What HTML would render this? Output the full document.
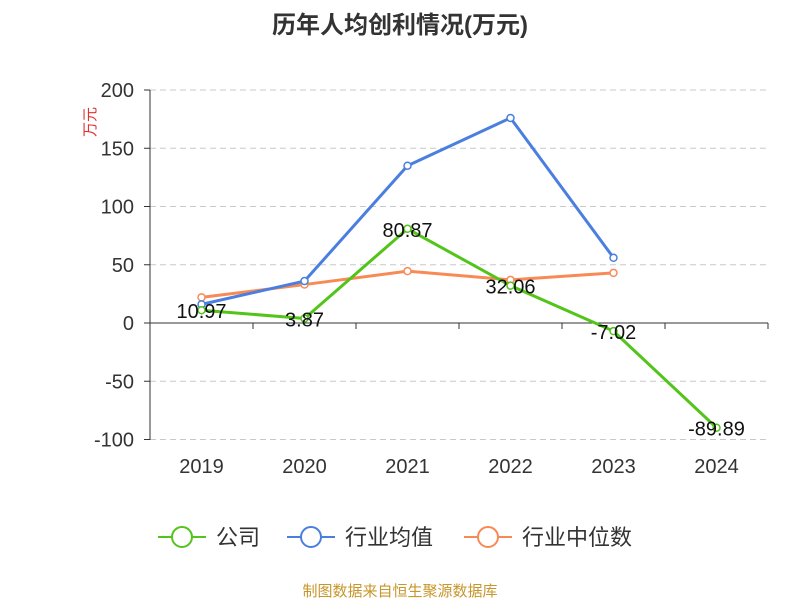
<!DOCTYPE html>
<html><head><meta charset="utf-8"><style>
body{margin:0;background:#fff;}
svg text{font-family:"Liberation Sans","Noto Sans CJK SC",sans-serif;}
</style></head><body>
<svg id="chart" width="800" height="600" xmlns="http://www.w3.org/2000/svg">
<text x="400" y="33" text-anchor="middle" font-size="24" font-weight="bold" fill="#333">历年人均创利情况(万元)</text>
<text x="0" y="0" transform="translate(95,122) rotate(-90)" text-anchor="middle" font-size="15" fill="#e03030">万元</text>
<g id="grid"></g><g id="axes"></g><g id="series"></g>
<g>
<g><line x1="158" y1="537" x2="206" y2="537" stroke="#52c41a" stroke-width="2"/><circle cx="182" cy="537" r="10" fill="#fff" stroke="#52c41a" stroke-width="2"/><text x="216" y="545" font-size="22" fill="#333">公司</text></g>
<g><line x1="287" y1="537" x2="335" y2="537" stroke="#4a7fe0" stroke-width="2"/><circle cx="311" cy="537" r="10" fill="#fff" stroke="#4a7fe0" stroke-width="2"/><text x="345" y="545" font-size="22" fill="#333">行业均值</text></g>
<g><line x1="464" y1="537" x2="512" y2="537" stroke="#f78a55" stroke-width="2"/><circle cx="488" cy="537" r="10" fill="#fff" stroke="#f78a55" stroke-width="2"/><text x="522" y="545" font-size="22" fill="#333">行业中位数</text></g>
</g>
<text x="400" y="596" text-anchor="middle" font-size="15" fill="#c8962a">制图数据来自恒生聚源数据库</text>
</svg>
<script>
const categories=["2019","2020","2021","2022","2023","2024"];
const companyValues=[10.97,3.87,80.87,32.06,-7.02,-89.89];
const avgValues=[16,36,135,176,56,null];
const medianValues=[22,33,44.5,37,43,null];
const yTicks=[200,150,100,50,0,-50,-100];
const NS="http://www.w3.org/2000/svg";
const x0=150,x1=768,yTop=90,yBot=440;
const y=v=>323-(v)*(323-yTop)/200;
const bw=(x1-x0)/categories.length;
const x=i=>x0+bw*(i+0.5);
function mk(tag,attrs,parent,txt){const e=document.createElementNS(NS,tag);for(const k in attrs)e.setAttribute(k,attrs[k]);if(txt!=null)e.textContent=txt;document.getElementById(parent).appendChild(e);return e;}
yTicks.forEach(t=>{
 const g=mk('line',{x1:x0,x2:x1,y1:y(t),y2:y(t),stroke:t===0?'#333':'#c8c8c8','stroke-dasharray':t===0?'':'6,4','stroke-width':1},'grid');
 
 
 const tk=mk('line',{x1:x0-6,x2:x0,y1:y(t),y2:y(t),stroke:'#333'},'axes');
 
 
 const l=mk('text',{x:x0-16,y:y(t)+7,'text-anchor':'end','font-size':20,fill:'#333'},'axes',t);
 
 
});
const ya=mk('line',{x1:x0,x2:x0,y1:yTop,y2:yBot,stroke:'#333'},'axes');


for(let i=0;i<=categories.length;i++){
 const t=mk('line',{x1:x0+bw*i,x2:x0+bw*i,y1:y(0),y2:y(0)+6,stroke:'#333'},'axes');
 
 
}
categories.forEach((c,i)=>{
 const l=mk('text',{x:x(i),y:473,'text-anchor':'middle','font-size':20,fill:'#333'},'axes',c);
 
 
});
function series(vals,color,name,labels){
 const pts=vals.map((v,i)=>v==null?null:[x(i),y(v)]).filter(p=>p);
 const p=mk('polyline',{points:pts.map(p=>p.join(',')).join(' '),fill:'none',stroke:color,'stroke-width':3},'series');
 
 
 vals.forEach((v,i)=>{if(v==null)return;
  const c=mk('circle',{cx:x(i),cy:y(v),r:3.5,fill:'#fff',stroke:color,'stroke-width':1.5},'series');
  
  
  if(labels){const t=mk('text',{x:x(i),y:y(v)+8,'text-anchor':'middle','font-size':20,fill:'#111'},'series',v.toFixed(2));
   
   }
 });
}
series(medianValues,'#f78a55','industry-median',false);
series(avgValues,'#4a7fe0','industry-average',false);
series(companyValues,'#52c41a','company',true);
</script>
</body></html>
